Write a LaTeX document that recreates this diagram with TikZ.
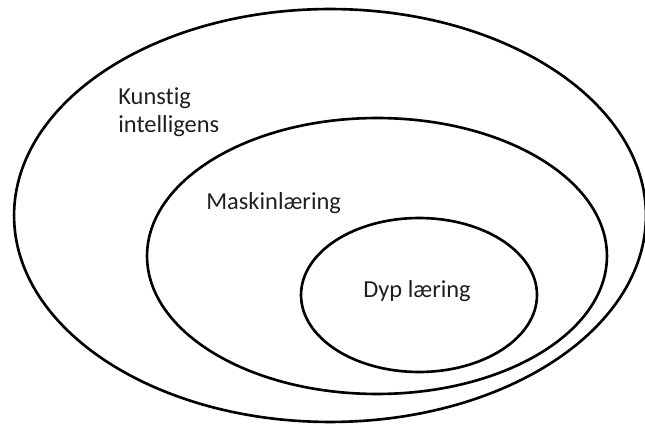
\documentclass[tikz,border=0pt]{standalone}
\usepackage{fontspec}
\setmainfont{Carlito}[Ligatures=CommonOff]
\usetikzlibrary{shapes.geometric}
\tikzset{
	ring/.style={draw,ellipse,line width=1.5pt,inner sep=0pt},
	lbl/.style={text=black!88,font=\fontsize{13.9}{16.5}\selectfont,inner sep=0pt},
}
\begin{document}
\begin{tikzpicture}[x=0.02cm,y=-0.02cm]
	\useasboundingbox (0,0) rectangle (645,425);
	\node [ring,minimum width=12.64cm,minimum height=8.26cm] (ai) at (330,215.5){};
	\node [ring,minimum width=9.2cm,minimum height=5.52cm] (ml) at (377,256){};
	\node [ring,minimum width=4.72cm,minimum height=3.08cm] (dl) at (419,295){};
	\node [lbl,align=left,anchor=base west] (lblAi) at (118,133){Kunstig\\intelligens};
	\node [lbl,anchor=base west] (lblMl) at (206,210){Maskinlæring};
	\node [lbl,anchor=base west] (lblDl) at (363,297){Dyp læring};
\end{tikzpicture}
\end{document}
